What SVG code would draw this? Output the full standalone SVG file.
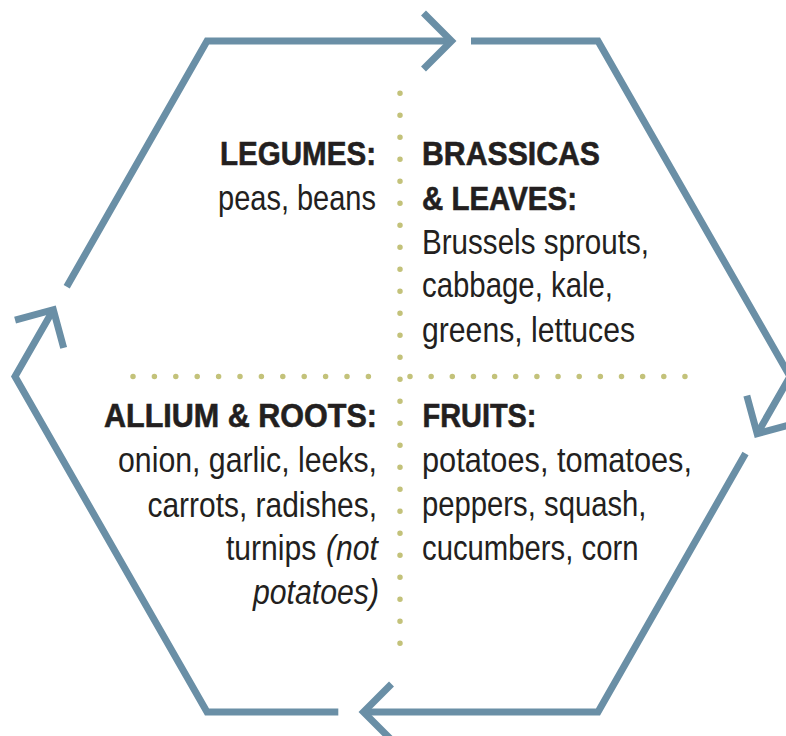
<svg xmlns="http://www.w3.org/2000/svg" width="786" height="736" viewBox="0 0 786 736">
<style>
  .hex { fill: none; stroke: #6a8fa6; stroke-width: 7; stroke-linejoin: miter; stroke-linecap: butt; marker-end: url(#chev); }
  .dots { fill: none; stroke: #c3c27a; stroke-width: 5.5; stroke-linecap: round; }
  .t { font-family: "Liberation Sans", Arial, sans-serif; fill: #231f20; }
  .h { font-size: 33px; font-weight: bold; stroke: #231f20; stroke-width: 0.6; }
  .b { font-size: 35px; }
  .i { font-style: italic; }
</style>
<defs>
  <marker id="chev" markerUnits="userSpaceOnUse" viewBox="-40 -40 80 80" markerWidth="80" markerHeight="80" refX="0" refY="0" orient="auto" overflow="visible">
    <path d="M-28,-28 L0,0 L-28,28" fill="none" stroke="#6a8fa6" stroke-width="7" stroke-linejoin="miter"/>
  </marker>
</defs>
<rect width="786" height="736" fill="#ffffff"/>
<g id="connectors">
  <path class="hex" d="M66.7,286.7 L207,41 L451.5,41"/>
  <path class="hex" d="M471,41 L598,41 L790,376.5 L757.2,433.8"/>
  <path class="hex" d="M745.5,453.5 L598,712 L363.5,712"/>
  <path class="hex" d="M338.3,712 L207,712 L15,376.5 L53.3,309.7"/>
</g>
<g id="dividers">
  <line class="dots" x1="400" y1="93.3" x2="400" y2="643.5" stroke-dasharray="0 22"/>
  <line class="dots" x1="133" y1="376.5" x2="389.8" y2="376.5" stroke-dasharray="0 21.4"/>
  <line class="dots" x1="410" y1="376.5" x2="685" y2="376.5" stroke-dasharray="0 21.15"/>
</g>
<g id="legumes">
  <text class="t h" x="220" y="165" textLength="156" lengthAdjust="spacingAndGlyphs">LEGUMES:</text>
  <text class="t b" x="218" y="209.5" textLength="158" lengthAdjust="spacingAndGlyphs">peas, beans</text>
</g>
<g id="brassicas">
  <text class="t h" x="422" y="165" textLength="178" lengthAdjust="spacingAndGlyphs">BRASSICAS</text>
  <text class="t h" x="422" y="210" textLength="155" lengthAdjust="spacingAndGlyphs">&amp; LEAVES:</text>
  <text class="t b" x="422" y="253.5" textLength="227" lengthAdjust="spacingAndGlyphs">Brussels sprouts,</text>
  <text class="t b" x="422" y="297" textLength="191" lengthAdjust="spacingAndGlyphs">cabbage, kale,</text>
  <text class="t b" x="422" y="341.5" textLength="213" lengthAdjust="spacingAndGlyphs">greens, lettuces</text>
</g>
<g id="allium">
  <text class="t h" x="104" y="427" textLength="273" lengthAdjust="spacingAndGlyphs">ALLIUM &amp; ROOTS:</text>
  <text class="t b" x="118" y="471.5" textLength="259" lengthAdjust="spacingAndGlyphs">onion, garlic, leeks,</text>
  <text class="t b" x="147.5" y="516.5" textLength="229.5" lengthAdjust="spacingAndGlyphs">carrots, radishes,</text>
  <text class="t b" x="0" y="0" transform="matrix(0.86 0 0 1 226 560)">turnips</text>
  <text class="t b i" x="0" y="0" transform="matrix(0.86 0 0 1 326 560)">(not</text>
  <text class="t b i" x="253" y="603.5" textLength="126" lengthAdjust="spacingAndGlyphs">potatoes)</text>
</g>
<g id="fruits">
  <text class="t h" x="422.5" y="426.5" textLength="114" lengthAdjust="spacingAndGlyphs">FRUITS:</text>
  <text class="t b" x="422" y="471.5" textLength="270" lengthAdjust="spacingAndGlyphs">potatoes, tomatoes,</text>
  <text class="t b" x="422" y="516" textLength="224.5" lengthAdjust="spacingAndGlyphs">peppers, squash,</text>
  <text class="t b" x="422" y="559.5" textLength="216.5" lengthAdjust="spacingAndGlyphs">cucumbers, corn</text>
</g>
</svg>
